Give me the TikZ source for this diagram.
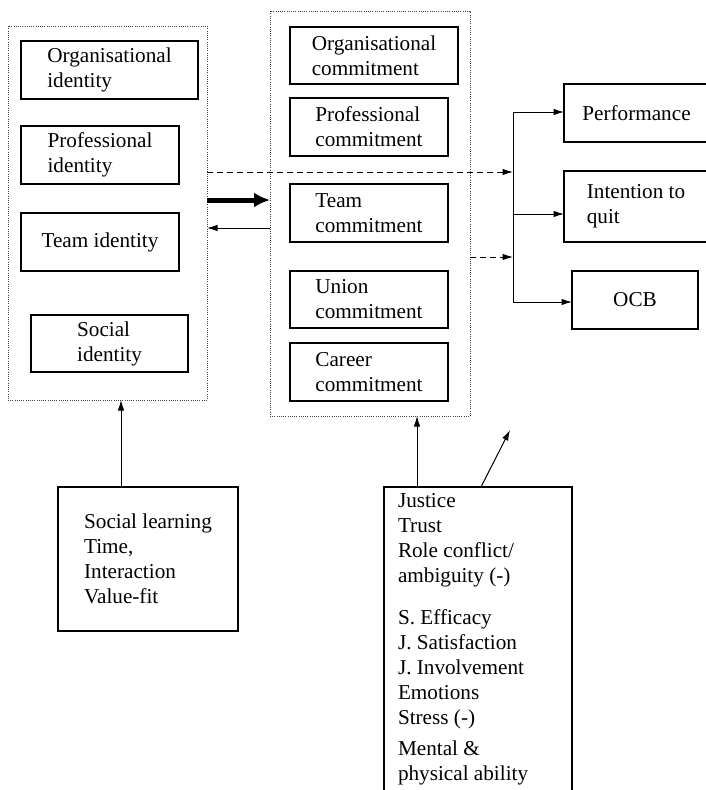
\documentclass[tikz,border=0pt]{standalone}
\usepackage{fontspec}
\setmainfont{Liberation Serif}
\usetikzlibrary{arrows.meta}
\begin{document}
\begin{tikzpicture}[x=1pt,y=-1pt,
  every node/.style={font=\fontsize{21.2}{25}\selectfont, inner sep=0pt, outer sep=0pt, align=left},
  bx/.style={draw, line width=1.2pt},
  cont/.style={draw=black!75, line width=0.9pt, dash pattern=on 0.9pt off 1.3pt},
  side/.style={line width=1.2pt},
  arr/.style={line width=1pt, -{Latex[length=10.5pt,width=6.5pt]}},
  dsh/.style={line width=1pt, dash pattern=on 6pt off 4pt, -{Latex[length=10.5pt,width=6.5pt]}},
  bigarr/.style={line width=5pt, -{Latex[length=16pt,width=15pt]}}
]
\useasboundingbox (0,0) rectangle (706,790);

% containers
\node[cont, minimum width=199pt, minimum height=374pt] (L) at (107.5,213) {};
\node[cont, minimum width=200pt, minimum height=405pt] (M) at (370,213.5) {};

% identity boxes
\node[bx, minimum width=177pt, minimum height=58pt] (oid) at (109.5,70) {Organisational\\identity};
\node[bx, minimum width=158pt, minimum height=58pt] (pid) at (100,155) {Professional\\identity};
\node[bx, minimum width=158pt, minimum height=58pt] (tid) at (100,242) {Team identity};
\node[bx, minimum width=157pt, minimum height=57pt] (sid) at (109.5,343.5) {Social\\identity};

% commitment boxes
\node[bx, minimum width=168pt, minimum height=57pt] (oc) at (374,55.5) {Organisational\\commitment};
\node[bx, minimum width=158pt, minimum height=58pt] (pc) at (369,127) {Professional\\commitment};
\node[bx, minimum width=158pt, minimum height=58pt] (tc) at (369,213) {Team\\commitment};
\node[bx, minimum width=158pt, minimum height=57pt] (uc) at (369,299.5) {Union\\commitment};
\node[bx, minimum width=158pt, minimum height=58pt] (cc) at (369,372) {Career\\commitment};

% outcome boxes
\node[minimum width=142pt, minimum height=58pt] (perf) at (635,113) {\hspace*{3pt}Performance};
\draw[side] (perf.north east) -- (perf.north west) -- (perf.south west) -- (perf.south east);
\node[minimum width=142pt, minimum height=71pt] (int) at (635,206.5) {\hspace*{2pt}Intention to\\\hspace*{2pt}quit};
\draw[side] (int.north east) -- (int.north west) -- (int.south west) -- (int.south east);
\node[bx, minimum width=126pt, minimum height=58pt] (ocb) at (635,300) {OCB};

% antecedent boxes
\node[bx, minimum width=180pt, minimum height=144pt] (sl) at (148,559) {Social learning\\Time,\\Interaction\\Value-fit};
\node[minimum width=188pt, minimum height=303pt] (jb) at (478,638.5) {};
\draw[side] (jb.south west) -- (jb.north west) -- (jb.north east) -- (jb.south east);
\node[anchor=north west] (jt) at (398,493) {Justice\\Trust\\Role conflict/\\ambiguity (-)\\[17pt]S. Efficacy\\J. Satisfaction\\J. Involvement\\Emotions\\Stress (-)\\[6pt]Mental \&\\physical ability};

% bus
\coordinate (bt) at (513,112);
\coordinate (bb) at (513,302);
\draw[line width=1pt] (bt) -- (bb);
\draw[arr] (bt) -- (perf.west |- bt);
\draw[arr] (bt |- 0,214) -- (int.west |- 0,214);
\draw[arr] (bb) -- (ocb.west |- bb);

% between containers
\draw[bigarr] (L.east |- 0,200) -- (M.west |- 0,200);
\draw[arr] (M.west |- 0,228) -- (L.east |- 0,228);
\draw[dsh] (L.east |- 0,172) -- (bt |- 0,172);
\draw[dsh] (M.east |- 0,257) -- (bt |- 0,257);

% upward arrows
\draw[arr] (sl.north -| 121,0) -- (L.south -| 121,0);
\draw[arr] (jb.north -| 417,0) -- (M.south -| 417,0);
\coordinate (free) at (510,430);
\draw[arr] (jb.north -| 481,0) -- (free);
\end{tikzpicture}
\end{document}
